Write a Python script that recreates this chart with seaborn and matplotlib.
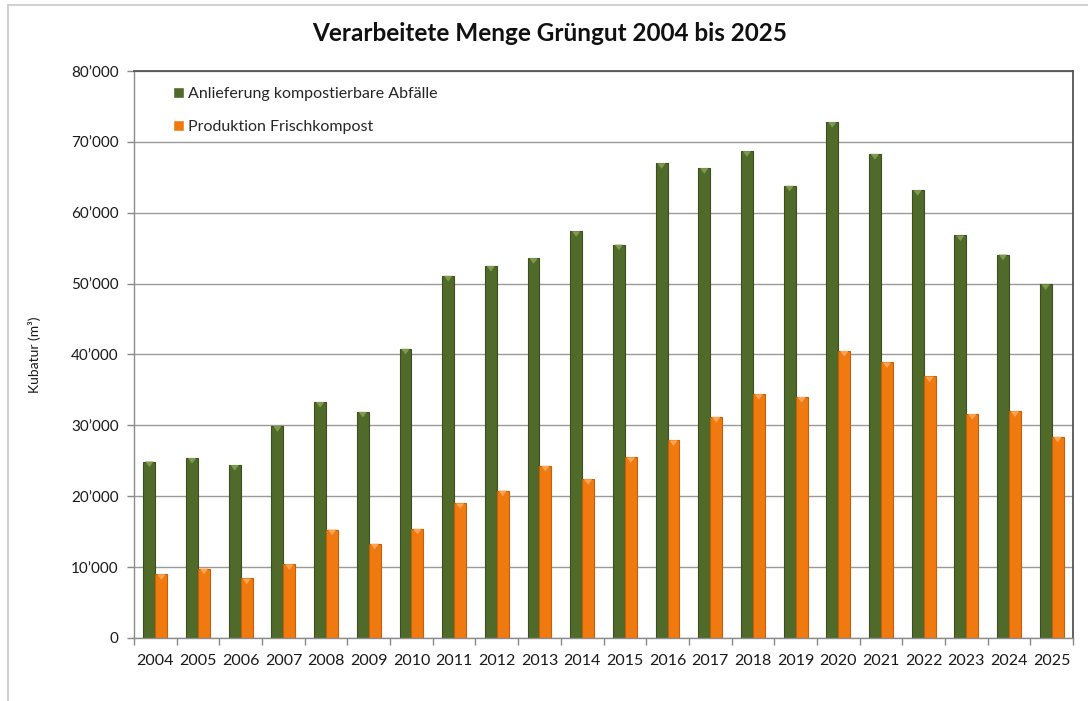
import numpy as np
import pandas as pd
import seaborn as sns
import matplotlib.pyplot as plt
from matplotlib.ticker import FuncFormatter, MultipleLocator, FixedLocator
from matplotlib.lines import Line2D
from matplotlib.patches import Polygon

years = [str(y) for y in range(2004, 2026)]
anlieferung = [24900, 25400, 24400, 29900, 33300, 31900, 40800, 51100, 52500, 53600, 57400,
               55500, 67000, 66300, 68700, 63800, 72800, 68300, 63200, 56800, 54100, 49900]
produktion = [9000, 9800, 8400, 10400, 15300, 13300, 15400, 19000, 20800, 24300, 22400,
              25500, 27900, 31200, 34400, 34000, 40500, 38900, 36900, 31600, 32000, 28400]
series_names = ["Anlieferung kompostierbare Abfälle", "Produktion Frischkompost"]

df = pd.DataFrame({
    "Jahr": years * 2,
    "Kubatur": anlieferung + produktion,
    "Serie": [series_names[0]] * len(years) + [series_names[1]] * len(years),
})

sns.set_style("white")
plt.rcParams["font.family"] = ["Lato", "DejaVu Sans"]

green = "#4f6a29"
orange = "#f07a10"
edge_cols = {green: "#3a4f1d", orange: "#c85e05"}
top_cols = {green: "#7f9a50", orange: "#ffa552"}

fig = plt.figure(figsize=(10.88, 7.01), dpi=100)
ax = fig.add_axes([0.1232, 0.0899, 0.8630, 0.8088])

sns.barplot(data=df, x="Jahr", y="Kubatur", hue="Serie", order=years,
            hue_order=series_names, palette=[green, orange], width=0.56,
            saturation=1, ax=ax, errorbar=None)

# bevel look: darker edge and a small light triangle on top of each bar
for bars, col in zip(ax.containers, [green, orange]):
    for p in bars:
        p.set_edgecolor(edge_cols[col])
        p.set_linewidth(0.8)
        x0, w, h = p.get_x(), p.get_width(), p.get_height()
        tri = Polygon([[x0 + 0.15 * w, h], [x0 + 0.85 * w, h], [x0 + 0.5 * w, h - 800]],
                      closed=True, facecolor=top_cols[col], edgecolor="none", zorder=3)
        ax.add_patch(tri)

ax.set_ylim(0, 80000)
ax.set_xlim(-0.5, len(years) - 0.5)
ax.yaxis.set_major_locator(MultipleLocator(10000))
ax.yaxis.set_major_formatter(FuncFormatter(lambda v, pos: f"{int(v):,}".replace(",", "\u2019")))
ax.grid(axis="y", color="#9a9a9a", linewidth=1)
ax.set_axisbelow(True)

ax.tick_params(axis="y", left=True, length=5, width=1, color="#888888",
               labelsize=11, pad=6, labelcolor="#1a1a1a")
ax.tick_params(axis="x", which="major", bottom=False, labelsize=11.5, pad=8, labelcolor="#1a1a1a")
ax.xaxis.set_minor_locator(FixedLocator(np.arange(-0.5, len(years), 1.0)))
ax.tick_params(axis="x", which="minor", bottom=True, length=5, width=1, color="#888888")

for side in ["left", "bottom"]:
    ax.spines[side].set_color("#8c8c8c")
    ax.spines[side].set_linewidth(1)
for side in ["top", "right"]:
    ax.spines[side].set_color("#555555")
    ax.spines[side].set_linewidth(1.3)

ax.set_xlabel("")
ax.set_ylabel("Kubatur (m\u00b3)", fontsize=10, labelpad=22, color="#1a1a1a")

ax.legend(loc="upper left", bbox_to_anchor=(0.035, 0.983), frameon=False, fontsize=11.5,
          handlelength=0.65, handleheight=0.65, handletextpad=0.3, labelspacing=1.2,
          borderaxespad=0)

fig.suptitle("Verarbeitete Menge Grüngut 2004 bis 2025", x=0.505, y=0.968,
             fontsize=17.5, fontweight="bold", color="#111111")

# thin outer frame of the chart object
fig.add_artist(Line2D([8 / 1088, 1], [1 - 5 / 701, 1 - 5 / 701], color="#c8c8c8", linewidth=1.2))
fig.add_artist(Line2D([8 / 1088, 8 / 1088], [0, 1 - 5 / 701], color="#c8c8c8", linewidth=1.2))

fig.savefig("out.png", dpi=100)
